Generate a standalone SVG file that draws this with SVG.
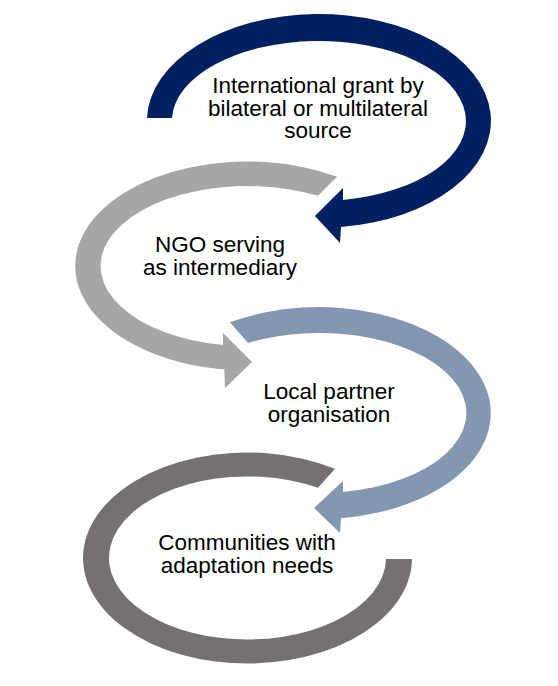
<svg xmlns="http://www.w3.org/2000/svg" width="558" height="686" viewBox="0 0 558 686">
  <style>
    .lbl { font-family: "Liberation Sans", Arial, sans-serif; font-size: 22.5px; fill: #000000; text-anchor: middle; }
    .navy { fill: #002060; }
    .grey { fill: #A6A6A6; }
    .blue { fill: #8497B0; }
    .dark { fill: #767171; }
  </style>
  <rect x="0" y="0" width="558" height="686" fill="#FFFFFF"/>
  <g id="node-international-grant">
    <path class="navy" d="M 147 118 A 172 107 0 1 1 341 227.1 L 340 243 L 315 216 L 343 188 L 343 199.9 A 147 80 0 1 0 172 118 Z"/>
    <text class="lbl" x="318" y="92.7">International grant by</text>
    <text class="lbl" x="318" y="115.7">bilateral or multilateral</text>
    <text class="lbl" x="318" y="138.3">source</text>
  </g>
  <g id="node-ngo">
    <path class="grey" d="M 337 176.8 A 172 104.5 0 1 0 224.3 369.5 L 225 388 L 252 362 L 223 333 L 223 344.9 A 147 80 0 1 1 318 195.8 Z"/>
    <text class="lbl" x="220" y="251.7">NGO serving</text>
    <text class="lbl" x="220" y="275">as intermediary</text>
  </g>
  <g id="node-local-partner">
    <path class="blue" d="M 230 322.3 A 172 106 0 1 1 341 518.2 L 340 533 L 314 508 L 343 481 L 343 491.9 A 147 80 0 1 0 248 343 Z"/>
    <text class="lbl" x="329" y="399">Local partner</text>
    <text class="lbl" x="329" y="421.7">organisation</text>
  </g>
  <g id="node-communities">
    <path class="dark" d="M 335 468.7 A 164.5 105.5 0 1 0 412 559 L 386 559 A 138.5 81.5 0 1 1 318 487.8 Z"/>
    <text class="lbl" x="247" y="550">Communities with</text>
    <text class="lbl" x="247" y="573.3">adaptation needs</text>
  </g>
  <g id="connectors"></g>
</svg>
